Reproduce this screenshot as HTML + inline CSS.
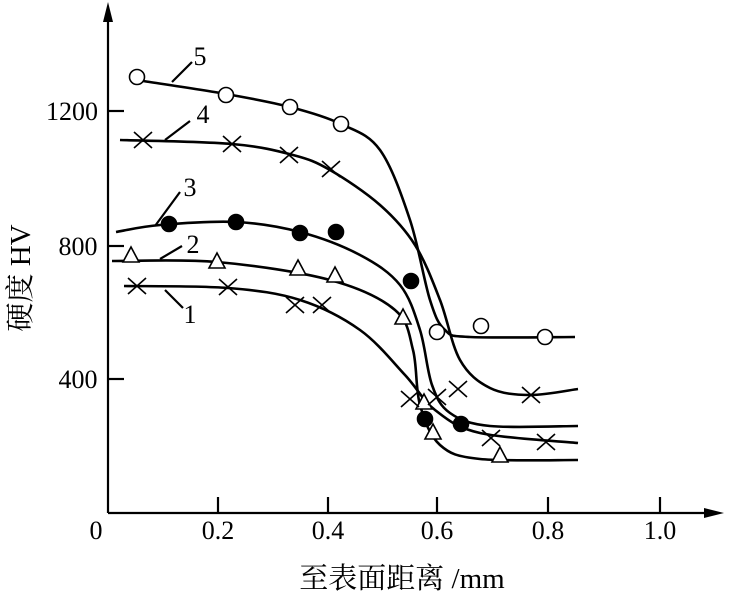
<!DOCTYPE html>
<html><head><meta charset="utf-8"><style>
html,body{margin:0;padding:0;background:#fff;}
svg{display:block;}
text{font-family:"Liberation Serif","Noto Serif CJK SC",serif;fill:#000;}
</style></head><body>
<svg id="s" width="736" height="591" viewBox="0 0 736 591" xmlns="http://www.w3.org/2000/svg">
<g stroke="#000" stroke-width="2.2" fill="none">
<line x1="108" y1="513" x2="108" y2="10"/>
<line x1="108" y1="513" x2="715" y2="513"/>
<line x1="108" y1="111" x2="124" y2="111"/>
<line x1="108" y1="246" x2="124" y2="246"/>
<line x1="108" y1="379" x2="124" y2="379"/>
<line x1="218" y1="513" x2="218" y2="497"/>
<line x1="328" y1="513" x2="328" y2="497"/>
<line x1="437" y1="513" x2="437" y2="497"/>
<line x1="548" y1="513" x2="548" y2="497"/>
<line x1="660" y1="513" x2="660" y2="497"/>
<line x1="172" y1="82" x2="192" y2="62"/>
<line x1="165" y1="140" x2="190" y2="121"/>
<line x1="155" y1="226" x2="180" y2="192"/>
<line x1="160" y1="259" x2="182" y2="246"/>
<line x1="165" y1="290" x2="183" y2="308"/>
</g>
<polygon points="108,2 103,22 113,22" fill="#000"/>
<polygon points="724,513 704,508 704,518" fill="#000"/>
<g font-size="26" text-anchor="middle">
<text x="96" y="539">0</text>
<text x="218" y="539">0.2</text>
<text x="328" y="539">0.4</text>
<text x="437" y="539">0.6</text>
<text x="548" y="539">0.8</text>
<text x="660" y="539">1.0</text>
<text x="72" y="120">1200</text>
<text x="78" y="255">800</text>
<text x="78" y="388">400</text>
<text x="200" y="65">5</text>
<text x="203" y="123">4</text>
<text x="190" y="196">3</text>
<text x="193" y="253">2</text>
<text x="190" y="323">1</text>
<text x="402" y="588" font-size="29">至表面距离 /mm</text>
<text transform="translate(30,278) rotate(-90)" font-size="29">硬度 HV</text>
</g>
<g id="curves" stroke="#000" stroke-width="2.6" fill="none"></g>
<g id="marks" stroke="#000" stroke-width="1.6"></g>
</svg>
<script>
function cr(p){let d="M"+p[0][0]+","+p[0][1];for(let i=0;i<p.length-1;i++){const p0=p[i-1]||p[i],p1=p[i],p2=p[i+1],p3=p[i+2]||p2;
const c1=[p1[0]+(p2[0]-p0[0])/6,p1[1]+(p2[1]-p0[1])/6],c2=[p2[0]-(p3[0]-p1[0])/6,p2[1]-(p3[1]-p1[1])/6];
d+=" C"+c1+" "+c2+" "+p2;}return d;}
const C=[
[[143,81],[226,94],[290,107],[341,124],[380,150],[410,220],[430,300],[445,330],[470,337],[575,337]],
[[120,140],[232,144],[293,155],[330,170],[380,205],[415,245],[440,300],[460,360],[490,388],[530,395],[578,389]],
[[116,232],[160,225],[236,222],[300,232],[360,255],[400,285],[420,330],[432,385],[450,413],[490,426],[578,426]],
[[112,261],[217,262],[330,280],[395,310],[413,350],[420,405],[440,445],[480,459],[578,460]],
[[124,286],[228,288],[300,300],[360,330],[405,375],[435,410],[480,433],[578,443]]];
let g=document.getElementById("curves"),h="";C.forEach(p=>h+='<path d="'+cr(p)+'"/>');g.innerHTML=h;
let m="";
const circ=[[137,77],[226,95],[290,107],[341,124],[437,332],[481,326],[545,337]];
circ.forEach(([x,y])=>m+=`<circle cx="${x}" cy="${y}" r="7.5" fill="#fff"/>`);
const dots=[[169,224],[236,222],[300,233],[336,232],[411,281],[425,419],[461,424]];
dots.forEach(([x,y])=>m+=`<circle cx="${x}" cy="${y}" r="7.5" fill="#000"/>`);
const tri=[[131,256],[217,262],[298,269],[335,276],[403,318],[424,403],[433,433],[500,456]];
tri.forEach(([x,y])=>m+=`<polygon points="${x},${y-9} ${x-8},${y+6} ${x+8},${y+6}" fill="#fff"/>`);
const xs=[[143,140],[232,144],[289,155],[331,169],[437,397],[458,389],[531,395],[137,286],[228,287],[295,305],[322,305],[410,399],[491,438],[546,442]];
xs.forEach(([x,y])=>m+=`<path d="M${x-9},${y-8}L${x+9},${y+8}M${x-9},${y+8}L${x+9},${y-8}" fill="none"/>`);
document.getElementById("marks").innerHTML=m;
</script>
</body></html>
